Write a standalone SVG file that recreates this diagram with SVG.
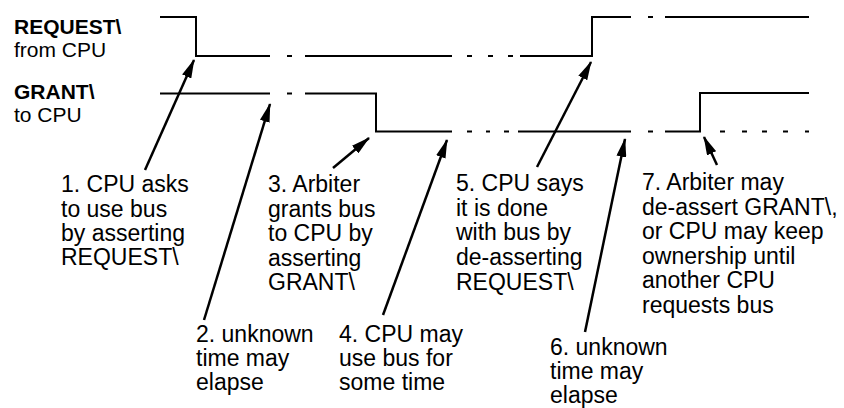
<svg xmlns="http://www.w3.org/2000/svg" width="844" height="408" viewBox="0 0 844 408">
<style>
.w{fill:none;stroke:#000;stroke-width:2;stroke-linecap:butt}
.a{fill:none;stroke:#000;stroke-width:2.5;marker-end:url(#ah)}
.t{font-family:"Liberation Sans",Arial,Helvetica,sans-serif;font-size:23px;fill:#000}
.l{font-size:21px}
.b{font-weight:bold}
</style>
<defs>
<marker id="ah" markerUnits="userSpaceOnUse" viewBox="0 0 19 10" refX="18" refY="5" markerWidth="19" markerHeight="10" orient="auto">
<path d="M0,0 L19,5 L0,10 z" fill="#000"/>
</marker>
</defs>
<rect width="844" height="408" fill="#fff"/>
<g id="label-request">
<text class="t l"><tspan class="b" x="14" y="33.5">REQUEST\</tspan><tspan x="14" y="57">from CPU</tspan></text>
</g>
<g id="label-grant">
<text class="t l"><tspan class="b" x="14" y="98.5">GRANT\</tspan><tspan x="14" y="122">to CPU</tspan></text>
</g>
<g id="request-wave">
<path class="w" d="M160,17 H196 V56 H270 M287,56 H292 M305,56 H452 M467,56 H472 M488,56 H493 M508,56 H513 M520,56 H592 V17 H631 M648,17 H653 M665,17 H809"/>
</g>
<g id="grant-wave">
<path class="w" d="M160,93.5 H270 M287,93.5 H292 M305,93.5 H376 V131.5 H452 M467,131.5 H472 M486,131.5 H490 M504,131.5 H509 M518,131.5 H631 M648,131.5 H653 M665,131.5 H700 V93 H809 M720,131.5 H725 M742,131.5 H747 M762,131.5 H767 M783,131.5 H788 M805,131.5 H809"/>
</g>
<g id="connectors">
<line class="a" x1="145" y1="170" x2="194" y2="60"/>
<line class="a" x1="204" y1="320" x2="270" y2="104"/>
<line class="a" x1="333" y1="168" x2="369" y2="138"/>
<line class="a" x1="383" y1="315" x2="447" y2="140"/>
<line class="a" x1="537" y1="167" x2="591" y2="62"/>
<line class="a" x1="585" y1="332" x2="625" y2="139"/>
<line class="a" x1="717" y1="165" x2="704" y2="137"/>
</g>
<g id="note1">
<text class="t"><tspan x="61" y="192">1. CPU asks</tspan><tspan x="61" y="216.5">to use bus</tspan><tspan x="61" y="241">by asserting</tspan><tspan x="61" y="265">REQUEST\</tspan></text>
</g>
<g id="note2">
<text class="t"><tspan x="196" y="342">2. unknown</tspan><tspan x="196" y="366">time may</tspan><tspan x="196" y="390">elapse</tspan></text>
</g>
<g id="note3">
<text class="t"><tspan x="268" y="192">3. Arbiter</tspan><tspan x="268" y="216.5">grants bus</tspan><tspan x="268" y="241">to CPU by</tspan><tspan x="268" y="265.5">asserting</tspan><tspan x="268" y="290">GRANT\</tspan></text>
</g>
<g id="note4">
<text class="t"><tspan x="339" y="342">4. CPU may</tspan><tspan x="339" y="366">use bus for</tspan><tspan x="339" y="390">some time</tspan></text>
</g>
<g id="note5">
<text class="t"><tspan x="456" y="191">5. CPU says</tspan><tspan x="456" y="215.5">it is done</tspan><tspan x="456" y="240">with bus by</tspan><tspan x="456" y="265">de-asserting</tspan><tspan x="456" y="290">REQUEST\</tspan></text>
</g>
<g id="note6">
<text class="t"><tspan x="550" y="355">6. unknown</tspan><tspan x="550" y="379">time may</tspan><tspan x="550" y="403">elapse</tspan></text>
</g>
<g id="note7">
<text class="t"><tspan x="642" y="190">7. Arbiter may</tspan><tspan x="642" y="214.5">de-assert GRANT\,</tspan><tspan x="642" y="239">or CPU may keep</tspan><tspan x="642" y="263.5">ownership until</tspan><tspan x="642" y="288">another CPU</tspan><tspan x="642" y="312.5">requests bus</tspan></text>
</g>
</svg>
